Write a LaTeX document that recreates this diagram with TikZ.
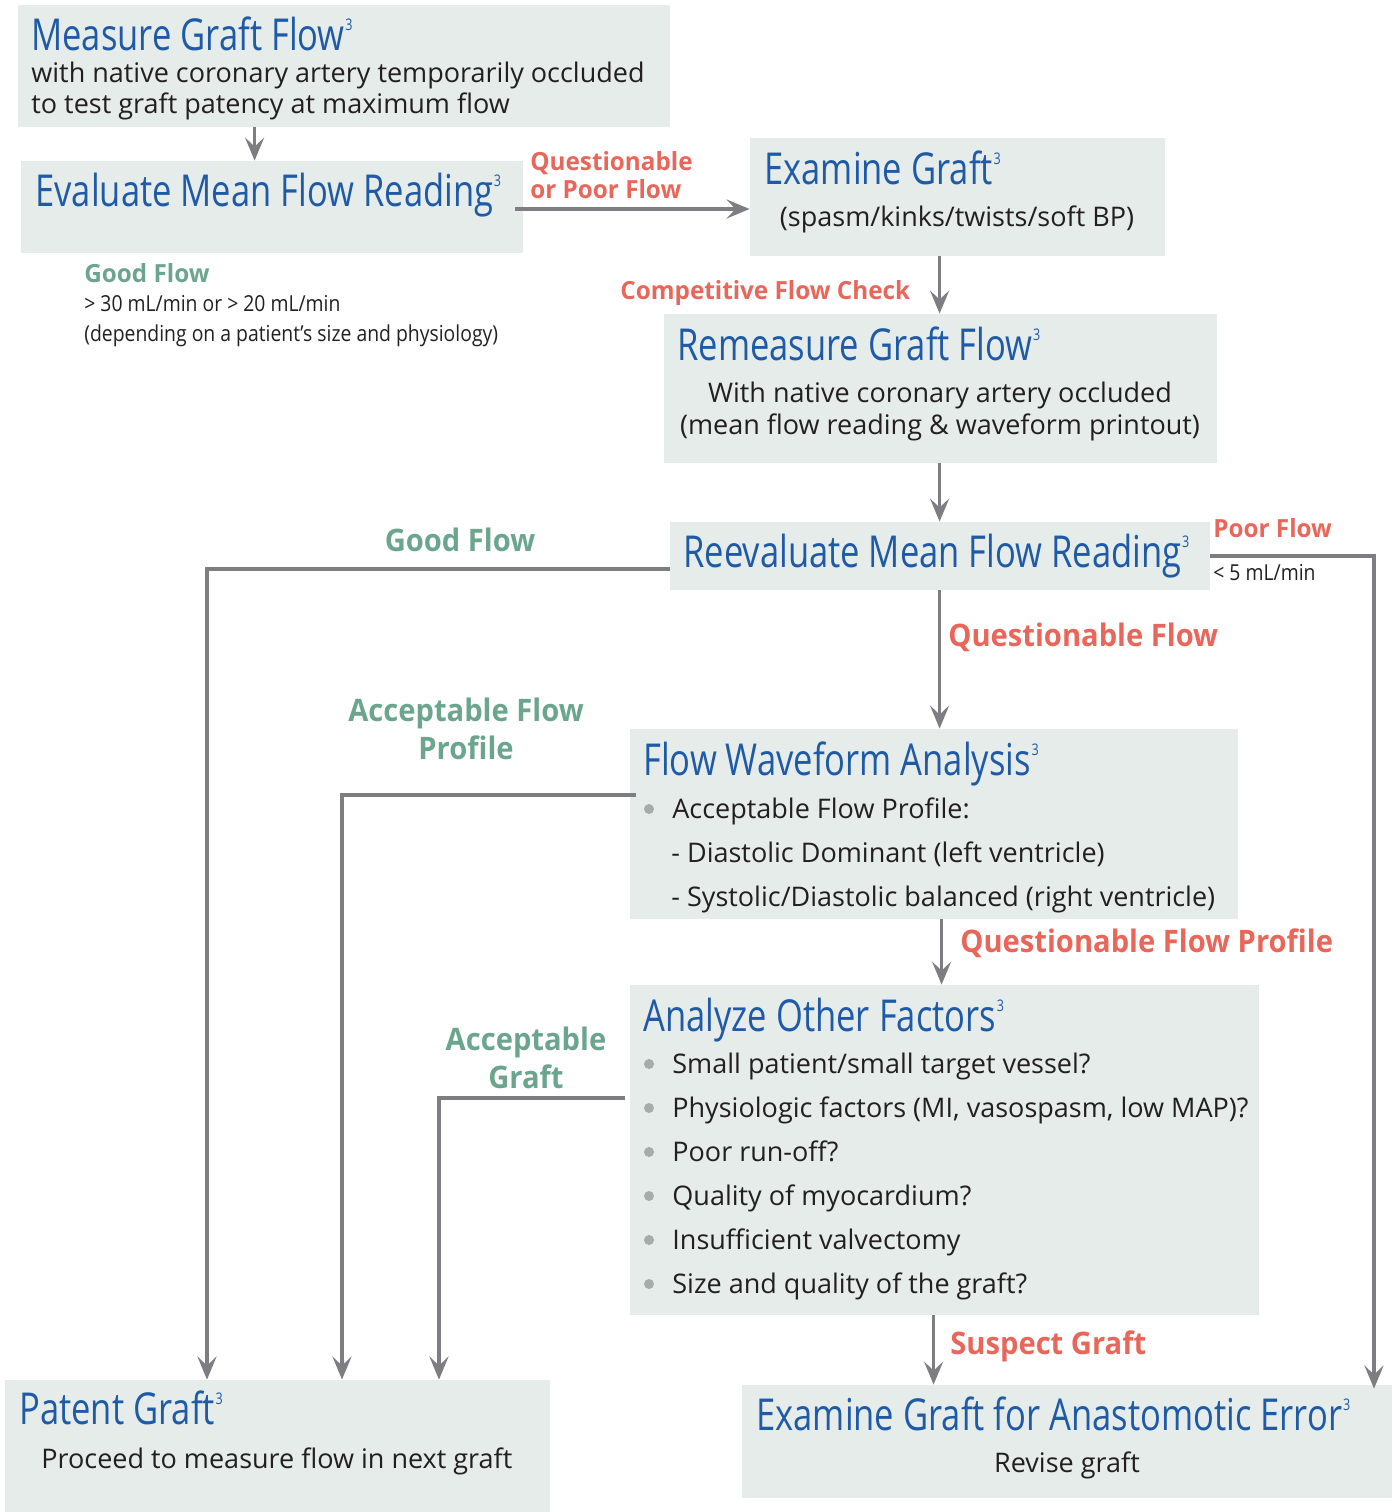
\documentclass[tikz,border=0pt]{standalone}
\usepackage{fontspec}
\setmainfont{Open Sans}
\newfontfamily\titlef[FakeStretch=0.785]{Open Sans}
\newfontfamily\bodyf{Open Sans}
\newfontfamily\lblbigf[FakeStretch=0.94]{Open Sans}
\newfontfamily\lblsmallf[FakeStretch=0.97]{Open Sans}
\newfontfamily\narrowf[FakeStretch=0.88]{Open Sans}
\usetikzlibrary{arrows.meta,fit,calc}
\definecolor{boxfill}{HTML}{E6ECEA}
\definecolor{ttlblue}{HTML}{1F5AA6}
\definecolor{lblred}{HTML}{E8665A}
\definecolor{lblgreen}{HTML}{6BA58E}
\definecolor{linegray}{HTML}{7D7D82}
\definecolor{txt}{HTML}{231F20}
\definecolor{bulletgray}{HTML}{A7ACAA}
\newcommand\tsup{\kern0.3pt\raisebox{10pt}{\fontsize{8}{8}\selectfont 3}}
\tikzset{
  box/.style={fill=boxfill, draw=none, inner sep=0pt},
  ttl/.style={anchor=base west, inner sep=0pt, text=ttlblue, font=\titlef\fontsize{22}{22}\selectfont},
  bodytxt/.style={inner sep=0pt, text=txt, font=\bodyf\fontsize{13.5}{16}\selectfont},
  itemtxt/.style={anchor=base west, inner sep=0pt, text=txt, font=\bodyf\fontsize{13.5}{16}\selectfont},
  redbig/.style={inner sep=0pt, text=lblred, font=\lblbigf\bfseries\fontsize{15.5}{19}\selectfont},
  redsmall/.style={inner sep=0pt, text=lblred, font=\lblsmallf\bfseries\fontsize{12.5}{14}\selectfont},
  greenbig/.style={inner sep=0pt, text=lblgreen, font=\lblbigf\bfseries\fontsize{15.5}{19}\selectfont},
  greensmall/.style={inner sep=0pt, text=lblgreen, font=\lblsmallf\bfseries\fontsize{12.5}{14}\selectfont},
  smalltxt/.style={anchor=base west, inner sep=0pt, text=txt, font=\narrowf\fontsize{11}{13}\selectfont},
  arr/.style={draw=linegray, line width=1.8pt, -{Stealth[length=11.5pt,width=9.5pt,inset=4.5pt]}},
  dot/.style={circle, fill=bulletgray, inner sep=0pt, minimum size=5pt},
}
\begin{document}
\begin{tikzpicture}[x=0.5pt,y=-0.5pt]
\useasboundingbox (0,0) rectangle (1397,1512);
% boxes
\node[box, fit={(18,5) (670,127)}] (b1) {};
\node[box, fit={(21,161) (523,253)}] (b2) {};
\node[box, fit={(750,138) (1165,256)}] (b3) {};
\node[box, fit={(664,314) (1217,463)}] (b4) {};
\node[box, fit={(670,522) (1210,590)}] (b5) {};
\node[box, fit={(630,729) (1238,919)}] (b6) {};
\node[box, fit={(630,985) (1259,1315)}] (b7) {};
\node[box, fit={(5,1380) (550,1512)}] (b8) {};
\node[box, fit={(742,1385) (1392,1498)}] (b9) {};
% box texts
\node[ttl] (t1) at (31,50) {Measure Graft Flow\tsup};
\node[bodytxt, anchor=base west] (t1a) at (31,82) {with native coronary artery temporarily occluded};
\node[bodytxt, anchor=base west] (t1b) at (31,113) {to test graft patency at maximum flow};
\node[ttl] (t2) at (35,206) {Evaluate Mean Flow Reading\tsup};
\node[ttl] (t3) at (764,184) {Examine Graft\tsup};
\node[bodytxt, anchor=base] (t3a) at (957,226) {(spasm/kinks/twists/soft BP)};
\node[ttl] (t4) at (677,360) {Remeasure Graft Flow\tsup};
\node[bodytxt, anchor=base] (t4a) at (940,402) {With native coronary artery occluded};
\node[bodytxt, anchor=base] (t4b) at (940,434) {(mean flow reading \& waveform printout)};
\node[ttl] (t5) at (683,567) {Reevaluate Mean Flow Reading\tsup};
\node[ttl] (t6) at (643,775) {Flow Waveform Analysis\tsup};
\node[dot] (d61) at (649,809) {};
\node[itemtxt] (i61) at (672,818) {Acceptable Flow Profile:};
\node[itemtxt] (i62) at (671,862) {- Diastolic Dominant (left ventricle)};
\node[itemtxt] (i63) at (671,906) {- Systolic/Diastolic balanced (right ventricle)};
\node[ttl] (t7) at (643,1031) {Analyze Other Factors\tsup};
\foreach \y/\t [count=\i] in {1073/{Small patient/small target vessel?},1117/{Physiologic factors (MI, vasospasm, low MAP)?},1161/{Poor run-off?},1205/{Quality of myocardium?},1249/{Insufficient valvectomy},1293/{Size and quality of the graft?}}{
  \node[dot] (d7\i) at (649,\y-9) {};
  \node[itemtxt] (i7\i) at (672,\y) {\t};
}
\node[ttl] (t8) at (19,1424) {Patent Graft\tsup};
\node[itemtxt] (t8a) at (41,1468) {Proceed to measure flow in next graft};
\node[ttl] (t9) at (756,1430) {Examine Graft for Anastomotic Error\tsup};
\node[itemtxt, anchor=base] (t9a) at (1067,1472) {Revise graft};
% labels
\node[redsmall, anchor=base west] (l1) at (530,170) {Questionable};
\node[redsmall, anchor=base west] (l2) at (530,198) {or Poor Flow};
\node[greensmall, anchor=base west] (l3) at (84,282) {Good Flow};
\node[smalltxt] (l3a) at (84,311) {> 30 mL/min or > 20 mL/min};
\node[smalltxt] (l3b) at (84,341) {(depending on a patient’s size and physiology)};
\node[redsmall, anchor=base west] (l4) at (620,299) {Competitive Flow Check};
\node[greenbig, anchor=base] (l5) at (460,551) {Good Flow};
\node[redsmall, anchor=base west] (l6) at (1213,537) {Poor Flow};
\node[smalltxt] (l6a) at (1213,580) {< 5 mL/min};
\node[redbig, anchor=base west] (l7) at (948,646) {Questionable Flow};
\node[greenbig, anchor=base] (l8) at (466,721) {Acceptable Flow};
\node[greenbig, anchor=base] (l8b) at (466,759) {Profile};
\node[redbig, anchor=base west] (l9) at (960,952) {Questionable Flow Profile};
\node[greenbig, anchor=base] (l10) at (526,1050) {Acceptable};
\node[greenbig, anchor=base] (l10b) at (526,1088) {Graft};
\node[redbig, anchor=base west] (l11) at (950,1354) {Suspect Graft};
% connector corners
\coordinate (c0) at (515,209);
\coordinate (c1) at (207,569);
\coordinate (c2) at (1374,556);
\coordinate (c3) at (342,795);
\coordinate (c4) at (439,1098);
% connectors
\draw[arr] ($(b1.south west)+(237,0)$) -- ($(b2.north west)+(234,0)$);
\draw[arr] (c0) -- (c0 -| b3.west);
\draw[arr] ($(b3.south west)+(190,0)$) -- ($(b4.north west)+(276,0)$);
\draw[arr] ($(b4.south west)+(276,0)$) -- ($(b5.north west)+(270,0)$);
\draw[arr] ($(b5.south west)+(270,0)$) -- ($(b6.north west)+(310,0)$);
\draw[arr] (c1 -| b5.west) -- (c1) -- (c1 |- b8.north);
\draw[arr] (c2 -| b5.east) -- (c2) -- ($(c2 |- b9.north)+(0,4)$);
\draw[arr] ($(b6.south west)+(312,0)$) -- ($(b7.north west)+(312,0)$);
\draw[arr] ($(c3 -| b6.west)+(6,0)$) -- (c3) -- (c3 |- b8.north);
\draw[arr] ($(c4 -| b7.west)+(-5,0)$) -- (c4) -- (c4 |- b8.north);
\draw[arr] ($(b7.south west)+(304,0)$) -- ($(b9.north west)+(192,0)$);
\end{tikzpicture}
\end{document}
